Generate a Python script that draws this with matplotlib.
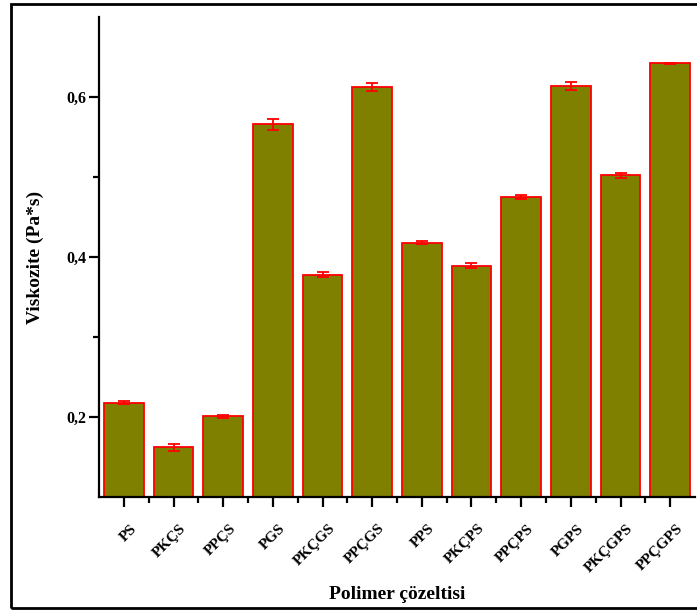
import matplotlib.pyplot as plt
import matplotlib.transforms as mtransforms
from matplotlib.patches import Rectangle
from matplotlib.ticker import FixedLocator, FuncFormatter
import numpy as np

plt.rcParams['font.family'] = ['Liberation Serif', 'DejaVu Serif']
plt.rcParams['font.weight'] = 'bold'

# Viscosity of the polymer solutions
samples = ['PS', 'PKÇS', 'PPÇS', 'PGS', 'PKÇGS', 'PPÇGS',
           'PPS', 'PKÇPS', 'PPÇPS', 'PGPS', 'PKÇGPS', 'PPÇGPS']
viscosity = [0.218, 0.162, 0.201, 0.566, 0.378, 0.613,
             0.418, 0.389, 0.475, 0.614, 0.502, 0.642]
std_err = [0.002, 0.004, 0.002, 0.007, 0.003, 0.005,
           0.002, 0.003, 0.002, 0.005, 0.003, 0.001]
y_ticks = [0.2, 0.4, 0.6]

fig = plt.figure(figsize=(6.97, 6.10), dpi=100)
ax = fig.add_axes([99 / 697, 1 - 497 / 610, 596 / 697, 480 / 610])

x = np.arange(len(samples))
ax.bar(x, viscosity, width=0.8, color='#808000', edgecolor='red', linewidth=1.3,
       yerr=std_err, error_kw=dict(ecolor='red', elinewidth=1.3, capsize=4, capthick=1.3))

ax.set_xlim(-0.5, len(samples) - 0.5)
ax.set_ylim(0.1, 0.7)

ax.spines['top'].set_visible(False)
ax.spines['right'].set_visible(False)
for s in ['left', 'bottom']:
    ax.spines[s].set_linewidth(1.6)

ax.set_yticks(y_ticks)
ax.yaxis.set_major_formatter(FuncFormatter(lambda v, p: f'{v:.1f}'.replace('.', ',')))
ax.yaxis.set_minor_locator(FixedLocator([0.3, 0.5]))
ax.set_xticks(x)
ax.set_xticklabels(samples, rotation=45, ha='right', va='top',
                   rotation_mode='anchor', fontsize=11)
ax.xaxis.set_minor_locator(FixedLocator(x[:-1] + 0.5))

ax.tick_params(axis='both', which='major', direction='out', length=7, width=1.6)
ax.tick_params(axis='both', which='minor', direction='out', length=4, width=1.6)
ax.tick_params(axis='y', which='major', labelsize=11.5, pad=2)
ax.tick_params(axis='x', which='major', pad=11)

# shift the slanted sample names a little to the right of their ticks
# (after tick_params, which resets the label transforms)
shift = mtransforms.ScaledTranslation(6 / 100, 0, fig.dpi_scale_trans)
for lbl in ax.get_xticklabels():
    lbl.set_transform(lbl.get_transform() + shift)

ax.set_ylabel('Viskozite (Pa*s)', fontsize=14, fontweight='bold')
ax.yaxis.set_label_coords(-0.092, 0.5)
ax.set_xlabel('Polimer çözeltisi', fontsize=14, fontweight='bold')
ax.xaxis.set_label_coords(0.5, (497 - 586) / 480)

# frame around the whole figure
fig.patches.append(Rectangle((11 / 697, 2 / 610), 700 / 697, 604 / 610,
                             transform=fig.transFigure, fill=False,
                             edgecolor='black', linewidth=2))

fig.savefig('out.png', dpi=100)
